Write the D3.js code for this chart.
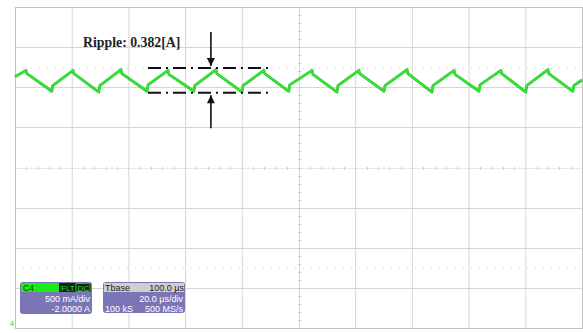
<!DOCTYPE html>
<html><head><meta charset="utf-8">
<script src="https://cdn.jsdelivr.net/npm/d3@7"></script>
<style>body{margin:0;background:#fff;}svg{display:block;}</style>
</head><body>
<script>
// ---- data ----
const timeTicks = [0,20,40,60,80,100,120,140,160,180,200];   // µs (20 µs/div)
const ampTicks  = [0,0.5,1,1.5,2,2.5,3,3.5,4];                 // A (500 mA/div, offset -2 A)
const waveT = [0,3.9,4.2,13.0,13.3,20.5,20.8,29.6,29.9,37.4,37.7,46.6,46.9,54.0,54.3,63.1,63.4,70.9,71.2,80.1,80.4,87.8,88.1,96.6,96.9,104.8,105.1,113.6,113.9,121.3,121.6,130.2,130.5,138.3,138.6,147.1,147.4,154.9,155.2,163.7,164.0,171.4,171.7,180.2,180.5,188.0,188.3,196.8,197.1,200];
const waveI = [3.13,3.21,3.17,2.95,3.02,3.21,3.17,2.94,3.02,3.22,3.17,2.95,3.03,3.21,3.16,2.95,3.02,3.22,3.17,2.94,3.02,3.21,3.17,2.95,3.03,3.21,3.16,2.94,3.02,3.21,3.17,2.95,3.02,3.22,3.17,2.94,3.02,3.21,3.16,2.95,3.03,3.21,3.17,2.94,3.02,3.22,3.17,2.95,3.02,3.09];
const rippleLabel = "Ripple: 0.382[A]";
const rippleHi = 3.24, rippleLo = 2.93;
const rippleSpan = [46.9, 91.0];
const arrowT = 69.1;
const levelDotted = [3.24, 0.75];
const ch = {name:"C4", tags:["FLT","DC"], scale:"500 mA/div", offset:"-2.0000 A"};
const tb = {name:"Tbase", value:"100.0 µs", div:"20.0 µs/div", samples:"100 kS", rate:"500 MS/s"};

// ---- chart ----
const W=583,H=333;
const svg=d3.select("body").append("svg").attr("width",W).attr("height",H);
const x=d3.scaleLinear().domain([0,200]).range([15,582]);
const y=d3.scaleLinear().domain([0,4]).range([328,7]);

const g=svg.append("g");
// grid
g.selectAll("line.v").data(timeTicks.filter(t=>t!==100)).join("line")
 .attr("x1",d=>x(d)+0.5).attr("x2",d=>x(d)+0.5).attr("y1",y(4)).attr("y2",y(0))
 .attr("stroke","#d6d6d6").attr("stroke-width",1);
g.selectAll("line.h").data(ampTicks.filter(a=>a!==2)).join("line")
 .attr("y1",d=>Math.round(y(d))+0.5).attr("y2",d=>Math.round(y(d))+0.5).attr("x1",x(0)).attr("x2",x(200))
 .attr("stroke","#d6d6d6").attr("stroke-width",1);
// center lines with minor ticks
g.append("line").attr("x1",Math.round(x(100))+0.5).attr("x2",Math.round(x(100))+0.5).attr("y1",y(4)).attr("y2",y(0)).attr("stroke","#d8d8d8");
g.append("line").attr("y1",Math.round(y(2))+0.5).attr("y2",Math.round(y(2))+0.5).attr("x1",x(0)).attr("x2",x(200)).attr("stroke","#e8e8e8");
g.selectAll("line.mx").data(d3.range(0,201,4)).join("line")
 .attr("x1",d=>Math.round(x(d))+0.5).attr("x2",d=>Math.round(x(d))+0.5)
 .attr("y1",Math.round(y(2))-1).attr("y2",Math.round(y(2))+2).attr("stroke","#cdcdcd");
g.selectAll("line.my").data(d3.range(0,4.01,0.1)).join("line")
 .attr("y1",d=>Math.round(y(d))+0.5).attr("y2",d=>Math.round(y(d))+0.5)
 .attr("x1",Math.round(x(100))-1).attr("x2",Math.round(x(100))+2).attr("stroke","#c8c8c8");
// faint dotted level lines
g.selectAll("line.lv").data(levelDotted).join("line")
 .attr("y1",d=>Math.round(y(d))+0.5).attr("y2",d=>Math.round(y(d))+0.5).attr("x1",x(0)).attr("x2",x(200))
 .attr("stroke","#d2d2d2").attr("stroke-dasharray","1,7");
// frame
g.append("rect").attr("x",x(0)+0.5).attr("y",y(4)+0.5).attr("width",x(200)-x(0)).attr("height",y(0)-y(4))
 .attr("fill","none").attr("stroke","#c2c2c2");

// waveform
const pts=waveT.map((t,i)=>[t,waveI[i]]);
g.append("path").datum(pts)
 .attr("d",d3.line().x(d=>x(d[0])).y(d=>y(d[1])))
 .attr("fill","none").attr("stroke","#22c822").attr("stroke-width",2.8).attr("stroke-linejoin","round");
g.append("path").datum(pts)
 .attr("d",d3.line().x(d=>x(d[0])).y(d=>y(d[1])))
 .attr("fill","none").attr("stroke","#3ae63a").attr("stroke-width",1.4).attr("stroke-linejoin","round");

// annotation
g.append("text").attr("x",x(24.0)).attr("y",y(3.50)).text(rippleLabel)
 .attr("font-family","Liberation Serif, serif").attr("font-weight","bold").attr("font-size",13.8).attr("fill","#222");
[rippleHi,rippleLo].forEach(v=>{
  g.append("line").attr("x1",x(rippleSpan[0])).attr("x2",x(rippleSpan[1])).attr("y1",y(v)).attr("y2",y(v))
   .attr("stroke","#111").attr("stroke-width",2).attr("stroke-dasharray","13,5,2,5");
});
const defs=svg.append("defs");
defs.append("marker").attr("id","ah").attr("viewBox","0 0 10 10").attr("refX",10).attr("refY",5)
 .attr("markerWidth",11).attr("markerHeight",8).attr("markerUnits","userSpaceOnUse").attr("orient","auto")
 .append("path").attr("d","M0,0L10,5L0,10Z").attr("fill","#111");
g.append("line").attr("x1",x(arrowT)).attr("x2",x(arrowT)).attr("y1",y(3.69)).attr("y2",y(3.265))
 .attr("stroke","#111").attr("stroke-width",1.6).attr("marker-end","url(#ah)");
g.append("line").attr("x1",x(arrowT)).attr("x2",x(arrowT)).attr("y1",y(2.49)).attr("y2",y(2.90))
 .attr("stroke","#111").attr("stroke-width",1.6).attr("marker-end","url(#ah)");

// channel box
const font="Liberation Sans, Arial, sans-serif";
const cb=svg.append("g").attr("transform","translate(20,282)");
cb.append("rect").attr("width",72).attr("height",32).attr("rx",3).attr("fill","#7b75b6");
cb.append("rect").attr("x",1).attr("y",1).attr("width",38).attr("height",9).attr("fill","#16ee16");
cb.append("rect").attr("x",39).attr("y",1).attr("width",32).attr("height",9).attr("fill","#0b2a0b");
cb.append("text").attr("x",3).attr("y",9).text(ch.name).attr("font-family",font).attr("font-size",8.5).attr("fill","#1a3a1a");
cb.append("text").attr("x",41).attr("y",9).text(ch.tags[0]).attr("font-family",font).attr("font-size",8).attr("fill","#3ad23a");
cb.append("rect").attr("x",56).attr("y",1.5).attr("width",14).attr("height",8).attr("fill","none").attr("stroke","#3ad23a").attr("stroke-width",0.8);
cb.append("text").attr("x",57.5).attr("y",9).text(ch.tags[1]).attr("font-family",font).attr("font-size",8).attr("fill","#3ad23a");
cb.append("text").attr("x",70).attr("y",20).attr("text-anchor","end").text(ch.scale).attr("font-family",font).attr("font-size",9).attr("fill","#fff");
cb.append("text").attr("x",70).attr("y",30).attr("text-anchor","end").text(ch.offset).attr("font-family",font).attr("font-size",9).attr("fill","#fff");

// timebase box
const tbx=svg.append("g").attr("transform","translate(103,282)");
tbx.append("rect").attr("width",82).attr("height",31).attr("rx",3).attr("fill","#7b75b6");
tbx.append("rect").attr("x",1).attr("y",1).attr("width",80).attr("height",9).attr("fill","#cfcfcf");
tbx.append("text").attr("x",2).attr("y",9).text(tb.name).attr("font-family",font).attr("font-size",9).attr("fill","#222");
tbx.append("text").attr("x",81).attr("y",9).attr("text-anchor","end").text(tb.value).attr("font-family",font).attr("font-size",9).attr("fill","#222");
tbx.append("text").attr("x",80).attr("y",20).attr("text-anchor","end").text(tb.div).attr("font-family",font).attr("font-size",9).attr("fill","#fff");
tbx.append("text").attr("x",2).attr("y",29.5).text(tb.samples).attr("font-family",font).attr("font-size",9).attr("fill","#fff");
tbx.append("text").attr("x",80).attr("y",29.5).attr("text-anchor","end").text(tb.rate).attr("font-family",font).attr("font-size",9).attr("fill","#fff");

// channel marker
svg.append("text").attr("x",10).attr("y",326).text("4").attr("font-family",font).attr("font-size",7).attr("fill","#2dd22d");
</script>
</body></html>
